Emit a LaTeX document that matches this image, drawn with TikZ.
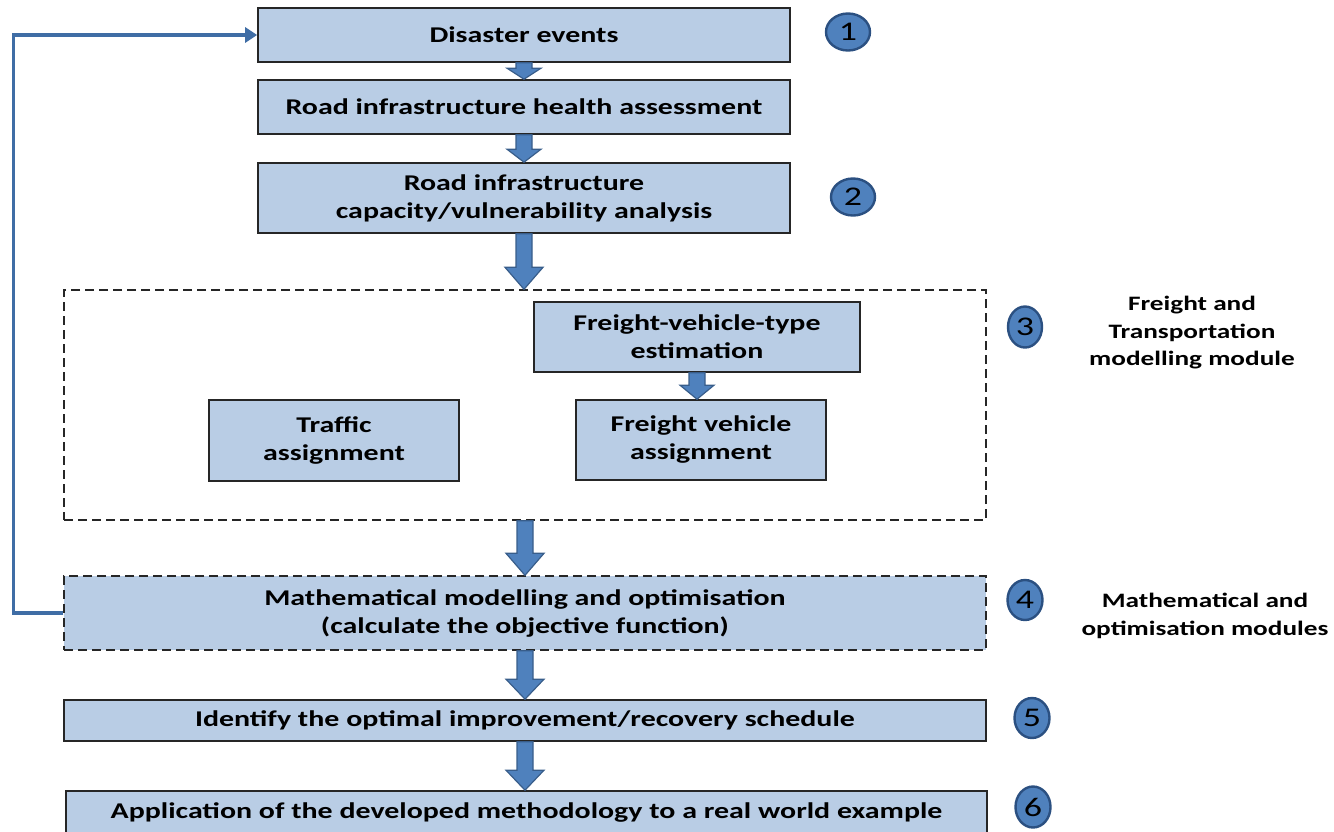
\documentclass[tikz,border=0pt]{standalone}
\usepackage{fontspec}
\setmainfont{Carlito}[FakeStretch=1.33]
\usetikzlibrary{arrows.meta,shapes.geometric,calc}

\definecolor{boxfill}{HTML}{B9CDE5}
\definecolor{arrowfill}{HTML}{4F81BD}
\definecolor{arrowline}{HTML}{385D8A}
\definecolor{loopblue}{HTML}{3F6DA5}
\definecolor{badgeline}{HTML}{2B5081}

\tikzset{
  box/.style={draw=black!85, line width=1.6pt, fill=boxfill, align=center,
    inner sep=0pt, font=\bfseries\fontsize{22.5}{28}\selectfont},
  module/.style={draw=black!85, line width=1.4pt, dash pattern=on 9pt off 5pt,
    inner sep=0pt},
  badge/.style={ellipse, draw=badgeline, line width=2.4pt, fill=arrowfill,
    inner sep=0pt, font=\fontsize{27}{27}\selectfont},
  sidelabel/.style={align=center, inner sep=0pt,
    font=\bfseries\fontsize{20.5}{27.5}\selectfont},
  blockarrow/.style={fill=arrowfill, draw=arrowline, line width=1.2pt, line join=miter},
  feedback/.style={draw=loopblue, line width=3.4pt,
    -{Triangle[width=15pt,length=12pt]}}
}

% vertical block arrow from the bottom of #1 to the top of #2
% #3 shaft half-width, #4 head half-width, #5 head length
\newcommand{\flowarrow}[5]{%
  \path[blockarrow] let \p1=(#1.south), \p2=(#2.north) in
    (\x1-#3,\y1) -- (\x1+#3,\y1) -- (\x1+#3,\y2+#5) -- (\x1+#4,\y2+#5)
    -- (\x1,\y2) -- (\x1-#4,\y2+#5) -- (\x1-#3,\y2+#5) -- cycle;}

\begin{document}
\begin{tikzpicture}[x=1pt,y=-1pt]
\useasboundingbox (0,0) rectangle (1334,831);

% main chain of steps
\node[box, minimum width=532pt, minimum height=54pt] (dis) at (524,35) {Disaster events};
\node[box, minimum width=532pt, minimum height=54pt] (health) at (524,107) {Road infrastructure health assessment};
\node[box, minimum width=532pt, minimum height=70pt] (cap) at (524,198) {Road infrastructure\\capacity/vulnerability analysis};

% freight and transportation module
\node[module, minimum width=922pt, minimum height=230pt] (ftm) at (525,405) {};
\node[box, minimum width=326pt, minimum height=70pt] (fvt) at (697,337) {Freight-vehicle-type\\estimation};
\node[box, minimum width=250pt, minimum height=81pt] (traffic) at (334,440.5) {Traffic\\assignment};
\node[box, minimum width=250pt, minimum height=80pt] (fva) at (701,440) {Freight vehicle\\assignment};

% optimisation and results
\node[box, module, fill=boxfill, minimum width=922pt, minimum height=74pt] (math) at (525,613)
  {Mathematical modelling and optimisation\\(calculate the objective function)};
\node[box, minimum width=922pt, minimum height=41pt] (ident) at (525,720.5)
  {Identify the optimal improvement/recovery schedule};
\node[box, minimum width=921pt, minimum height=42pt] (app) at (526.5,812)
  {Application of the developed methodology to a real world example};

% numbered badges
\node[badge, minimum width=44pt, minimum height=37pt] (b1) at (848,32) {1};
\node[badge, minimum width=44pt, minimum height=37pt] (b2) at (853,197) {2};
\node[badge, minimum width=34pt, minimum height=41pt] (b3) at (1025,327) {3};
\node[badge, minimum width=35pt, minimum height=40pt] (b4) at (1025,600) {4};
\node[badge, minimum width=35pt, minimum height=40pt] (b5) at (1032,718) {5};
\node[badge, minimum width=35pt, minimum height=41pt] (b6) at (1033,807) {6};

% module captions
\node[sidelabel] (lab3) at (1192,333) {Freight and\\Transportation\\modelling module};
\node[sidelabel] (lab4) at (1205,616) {Mathematical and\\optimisation modules};

% block arrows between steps
\flowarrow{dis}{health}{8pt}{17pt}{11pt}
\flowarrow{health}{cap}{8pt}{17pt}{13pt}
\flowarrow{cap}{ftm}{8pt}{19pt}{22pt}
\flowarrow{fvt}{fva}{8pt}{17pt}{14pt}
\flowarrow{ftm}{math}{8pt}{19pt}{22pt}
\flowarrow{math}{ident}{8pt}{19pt}{20pt}
\flowarrow{ident}{app}{8pt}{19pt}{20pt}

% feedback loop back to the disaster events
\draw[feedback] (math.west) -- ++(-50,0) |- (dis.west);
\end{tikzpicture}
\end{document}
